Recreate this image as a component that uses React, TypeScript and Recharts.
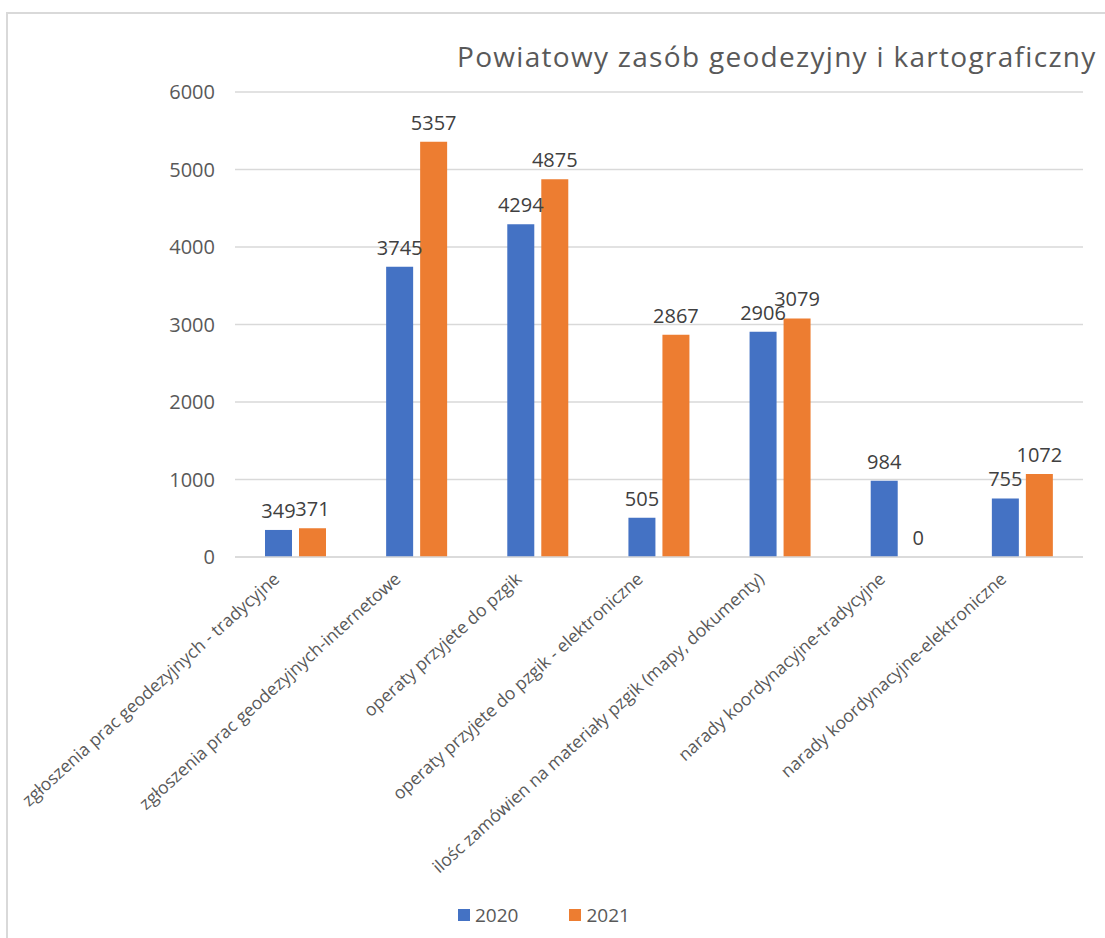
import { BarChart, Bar, XAxis, YAxis, CartesianGrid, Legend, LabelList } from 'recharts'

const categories = [
  'zgłoszenia prac geodezyjnych - tradycyjne',
  'zgłoszenia prac geodezyjnych-internetowe',
  'operaty przyjete do pzgik',
  'operaty przyjete do pzgik - elektroniczne',
  'ilośc zamówien na materiały pzgik (mapy, dokumenty)',
  'narady koordynacyjne-tradycyjne',
  'narady koordynacyjne-elektroniczne',
]
const values2020 = [349, 3745, 4294, 505, 2906, 984, 755]
const values2021 = [371, 5357, 4875, 2867, 3079, 0, 1072]
const yTicks = [0, 1000, 2000, 3000, 4000, 5000, 6000]

const data = categories.map((name, i) => ({ name, y2020: values2020[i], y2021: values2021[i] }))

const FONT = '"Open Sans", sans-serif'
const TEXT = '#595959'

// a zero bar gets a hairline height so recharts keeps it and its "0" label
const keepZero = (v: any) => (Number(v) === 0 ? 0.01 : 0)

function CategoryTick(props: any) {
  const { x, y, payload } = props
  return (
    <g transform={`translate(${x - 19},${y + 17})`}>
      <text
        textAnchor="end"
        transform="rotate(-42)"
        dy="0.35em"
        fill={TEXT}
        fontSize={17.5}
        fontFamily={FONT}
      >
        {payload.value}
      </text>
    </g>
  )
}

function ValueLabel(props: any) {
  const { x, y, width, value } = props
  return (
    <text
      x={Number(x) + Number(width) / 2}
      y={Number(y) - 12}
      textAnchor="middle"
      fill="#404040"
      fontSize={20}
      fontFamily={FONT}
    >
      {value}
    </text>
  )
}

function LegendBox(props: any) {
  const items = props.payload || []
  return (
    <div style={{ display: 'flex', fontFamily: FONT, fontSize: 19, color: TEXT }}>
      {items.map((it: any, i: number) => (
        <div key={i} style={{ display: 'flex', alignItems: 'center', marginRight: 51 }}>
          <span style={{ width: 12, height: 12, background: it.color, display: 'inline-block', marginRight: 5 }} />
          <span>{it.value}</span>
        </div>
      ))}
    </div>
  )
}

export default function App() {
  return (
    <div style={{ position: 'absolute', left: 0, top: 0, width: 1105, height: 938, background: '#fff', overflow: 'hidden' }}>
      <div style={{ position: 'absolute', left: 6, top: 12, width: 1200, height: 1000, borderLeft: '2px solid #d9d9d9', borderTop: '2px solid #d9d9d9' }} />
      <div style={{ position: 'absolute', left: 457, top: 42, fontFamily: FONT, fontSize: 28, lineHeight: 1, color: TEXT, whiteSpace: 'nowrap', letterSpacing: 1.3 }}>
        Powiatowy zasób geodezyjny i kartograficzny
      </div>
      <BarChart
        width={1105}
        height={938}
        data={data}
        margin={{ top: 92, right: 22, left: 175, bottom: 81 }}
        barSize={27}
        barGap={7}
        style={{ position: 'absolute', left: 0, top: 0 }}
      >
        <CartesianGrid vertical={false} stroke="#d9d9d9" strokeWidth={1.5} />
        <XAxis
          dataKey="name"
          interval={0}
          height={300}
          tick={<CategoryTick />}
          tickLine={false}
          tickSize={0}
          axisLine={{ stroke: '#d9d9d9', strokeWidth: 1.5 }}
        />
        <YAxis
          width={60}
          domain={[0, 6000]}
          ticks={yTicks}
          axisLine={false}
          tickLine={false}
          tickMargin={14}
          tick={{ fill: TEXT, fontSize: 20, fontFamily: FONT }}
        />
        <Legend
          verticalAlign="middle"
          align="center"
          content={<LegendBox />}
          wrapperStyle={{ top: 902, left: 458, width: 'auto' }}
        />
        <Bar dataKey="y2020" name="2020" fill="#4472C4" minPointSize={keepZero} isAnimationActive={false}>
          <LabelList dataKey="y2020" content={<ValueLabel />} />
        </Bar>
        <Bar dataKey="y2021" name="2021" fill="#ED7D31" minPointSize={keepZero} isAnimationActive={false}>
          <LabelList dataKey="y2021" content={<ValueLabel />} />
        </Bar>
      </BarChart>
    </div>
  )
}
